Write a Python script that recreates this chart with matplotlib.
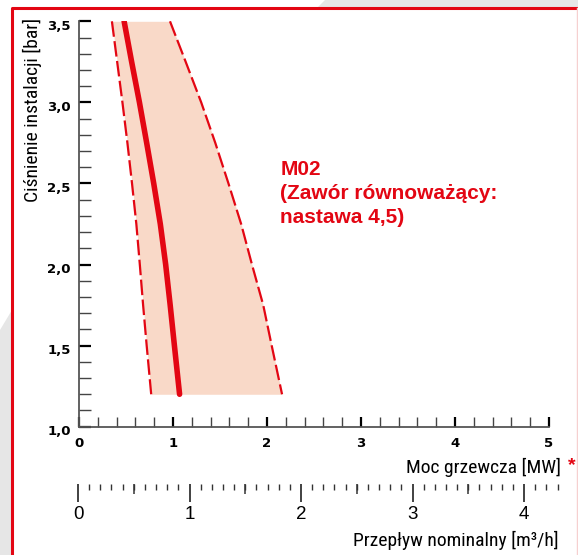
import numpy as np
import matplotlib
matplotlib.use("Agg")
import matplotlib.pyplot as plt
from matplotlib.patches import Polygon
from matplotlib.lines import Line2D
from matplotlib.ticker import MultipleLocator, FuncFormatter
from matplotlib.transforms import ScaledTranslation

# ciśnienie instalacji [bar]
cisnienie = [3.5, 3.25, 3.0, 2.75, 2.5, 2.25, 2.0, 1.75, 1.5, 1.2]
# moc grzewcza [MW]: krzywa nominalna i granice pola
moc_nom = [0.48, 0.56, 0.643, 0.72, 0.795, 0.865, 0.922, 0.97, 1.015, 1.07]
moc_min = [0.35, 0.406, 0.462, 0.515, 0.564, 0.61, 0.647, 0.682, 0.72, 0.768]
moc_max = [0.968, 1.135, 1.30, 1.45, 1.59, 1.725, 1.84, 1.96, 2.05, 2.16]

y_ticks = [1.0, 1.5, 2.0, 2.5, 3.0, 3.5]
x_ticks = [0, 1, 2, 3, 4, 5]
flow_ticks = [0, 1, 2, 3, 4]

RED = "#e30613"
FILL = "#f9d9c8"
GRAY = "#e6e6e6"
NARROW = ["Roboto Condensed", "DejaVu Sans"]
SANS = ["Liberation Sans", "DejaVu Sans"]

W, H = 578, 555
fig = plt.figure(figsize=(W / 100, H / 100), dpi=100)
fig.patch.set_facecolor("white")


def px(x, y):
    return (x / W, 1 - y / H)


# tło i ramka
fig.patches.append(Polygon([px(325, 0), px(W, 0), px(W, 7), px(318, 7)],
                           closed=True, transform=fig.transFigure,
                           facecolor=GRAY, edgecolor="none"))
fig.patches.append(Polygon([px(0, 330), px(12, 310), px(12, H), px(0, H)],
                           closed=True, transform=fig.transFigure,
                           facecolor=GRAY, edgecolor="none"))
fig.lines.append(Line2D([12 / W, 12 / W, 1], [0, 1 - 7.5 / H, 1 - 7.5 / H],
                        transform=fig.transFigure, color=RED, lw=2.2))
fig.lines.append(Line2D([577 / W, 577 / W], [0, 1 - 8 / H],
                        transform=fig.transFigure, color="#f6d0d0", lw=1))

# główny wykres
ax = fig.add_axes([79 / W, 1 - 426.7 / H, 470 / W, 405.4 / H])
ax.set_xlim(0, 5)
ax.set_ylim(1.0, 3.5)
ax.set_facecolor("none")

ax.fill_betweenx(cisnienie, moc_min, moc_max, color=FILL, lw=0, zorder=1)
ax.plot(moc_min, cisnienie, color=RED, lw=1.6, dashes=(7, 2.0), zorder=2)
ax.plot(moc_max, cisnienie, color=RED, lw=1.6, dashes=(7, 2.0), zorder=2)
ax.plot(moc_nom, cisnienie, color=RED, lw=4, solid_capstyle="round", zorder=3)

for s in ["top", "right"]:
    ax.spines[s].set_visible(False)
for s in ["left", "bottom"]:
    ax.spines[s].set_color("#555555")
    ax.spines[s].set_linewidth(1.3)

comma = FuncFormatter(lambda v, p: f"{v:.1f}".replace(".", ","))
ax.set_yticks(y_ticks)
ax.yaxis.set_major_formatter(comma)
ax.yaxis.set_minor_locator(MultipleLocator(0.1))
ax.set_xticks(x_ticks)
ax.xaxis.set_minor_locator(MultipleLocator(0.2))

ax.tick_params(axis="y", which="both", direction="in", length=8.5, pad=6)
ax.tick_params(axis="x", which="both", direction="in", length=7.2, pad=7.5)
ax.tick_params(which="major", width=1.6, color="black")
ax.tick_params(which="minor", width=1.0, color="#444444")
down = ScaledTranslation(0, -3.5 / 100, fig.dpi_scale_trans)
for lab in ax.get_xticklabels() + ax.get_yticklabels():
    lab.set_fontfamily("DejaVu Sans")
    lab.set_fontweight("bold")
    lab.set_fontsize(9.5)
for lab in ax.get_yticklabels():
    lab.set_transform(lab.get_transform() + down)

ax.text(2.14, 2.645, "M02\n(Zawór równoważący:\nnastawa 4,5)", color=RED,
        fontsize=15, fontweight="bold", family=SANS, va="top", ha="left",
        linespacing=1.35)

fig.text(32 / W, 1 - 18 / H, "Ciśnienie instalacji [bar]", rotation=90,
         ha="center", va="top", fontsize=14, family=NARROW)
fig.text(561 / W, 1 - 467 / H, "Moc grzewcza [MW]", ha="right", va="center",
         fontsize=14, family=NARROW)
fig.text(572 / W, 1 - 466 / H, "*", ha="center", va="center", color=RED,
         fontsize=14, fontweight="bold", family=SANS)

# skala przepływu
ax2 = fig.add_axes([78 / W, 1 - 484 / H, 479.5 / W, 0.01])
ax2.set_xlim(0, 4.3)
ax2.set_facecolor("none")
ax2.set_yticks([])
for s in ax2.spines.values():
    s.set_visible(False)
ax2.set_xticks(flow_ticks)
ax2.xaxis.set_minor_locator(MultipleLocator(0.1))
ax2.tick_params(axis="x", which="major", direction="out", length=13, width=1.3,
                color="#333333", pad=3, labelsize=13.5)
ax2.tick_params(axis="x", which="minor", direction="out", length=4.3, width=1.0,
                color="#333333")
for lab in ax2.get_xticklabels():
    lab.set_fontfamily(SANS)

half = ax2.secondary_xaxis(0)
half.set_xticks(np.arange(0.5, 4.3, 1.0))
half.tick_params(direction="out", length=7.5, width=1.1, color="#333333",
                 labelbottom=False)
half.spines["bottom"].set_visible(False)

fig.text(559 / W, 1 - 540 / H, "Przepływ nominalny [m³/h]", ha="right",
         va="center", fontsize=14, family=NARROW)

fig.savefig("out.png", dpi=100)
